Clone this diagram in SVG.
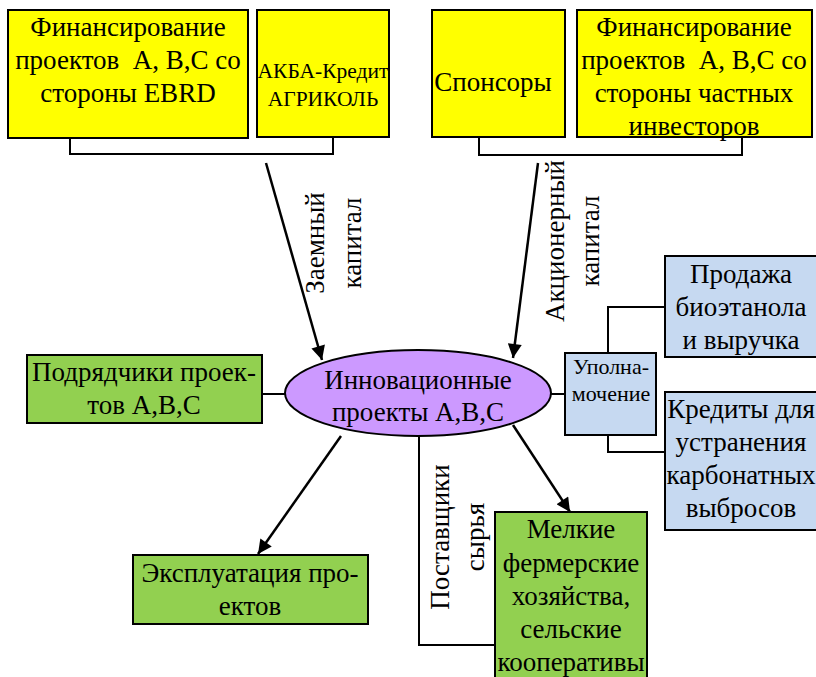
<svg xmlns="http://www.w3.org/2000/svg" width="816" height="677" viewBox="0 0 816 677">
<style>
text{font-family:'Liberation Serif','Times New Roman',serif;fill:#000}
.t{font-size:27px;text-anchor:middle}
.s{font-size:21.5px;text-anchor:middle}
.u{font-size:22px;text-anchor:middle}
.y{fill:#FFFF00;stroke:#000;stroke-width:2}
.g{fill:#92D050;stroke:#000;stroke-width:2}
.b{fill:#C6D9F1;stroke:#000;stroke-width:2}
.ln{fill:none;stroke:#000;stroke-width:2}
.ar{fill:none;stroke:#000;stroke-width:2.5}
</style>
<defs>
<marker id="ah" viewBox="0 0 10 10" refX="10" refY="5" markerWidth="15" markerHeight="14" markerUnits="userSpaceOnUse" orient="auto">
<path d="M0,0 L10,5 L0,10 z" fill="#000"/>
</marker>
</defs>
<rect width="816" height="677" fill="#fff"/>
<g id="connectors">
<polyline class="ln" points="70,138 70,154 333,154 333,137"/>
<polyline class="ln" points="479,137 479,155 742,155 742,137"/>
<line class="ar" x1="266" y1="163" x2="322" y2="360" marker-end="url(#ah)"/>
<line class="ar" x1="538" y1="163" x2="513" y2="358" marker-end="url(#ah)"/>
<line class="ln" x1="262" y1="394" x2="286" y2="394"/>
<line class="ln" x1="550" y1="394" x2="565" y2="394"/>
<polyline class="ln" points="608,353 608,307 665,307"/>
<polyline class="ln" points="608,435 608,452 665,452"/>
<line class="ar" x1="341" y1="436" x2="258" y2="554" marker-end="url(#ah)"/>
<line class="ar" x1="513" y1="425" x2="570" y2="512" marker-end="url(#ah)"/>
<polyline class="ln" points="419,437 419,645 494,645"/>
<text class="t" transform="translate(324,243) rotate(-90)">Заемный</text>
<text class="t" transform="translate(361,243) rotate(-90)">капитал</text>
<text class="t" transform="translate(564,241) rotate(-90)">Акционерный</text>
<text class="t" transform="translate(599,241) rotate(-90)">капитал</text>
<text class="t" transform="translate(449,537) rotate(-90)">Поставщики</text>
<text class="t" transform="translate(484,537) rotate(-90)">сырья</text>
</g>
<g id="ebrd">
<rect class="y" x="8" y="10" width="240" height="128"/>
<text class="t" x="128" y="36">Финансирование</text>
<text class="t" x="128" y="69" xml:space="preserve">проектов  А, В,С со</text>
<text class="t" x="128" y="102">стороны EBRD</text>
</g>
<g id="akba">
<rect class="y" x="257" y="10" width="132" height="127"/>
<text class="s" x="323" y="78">АКБА-Кредит</text>
<text class="s" x="323" y="106">АГРИКОЛЬ</text>
</g>
<g id="sponsors">
<rect class="y" x="432" y="10" width="133" height="127"/>
<text class="t" x="493" y="91">Спонсоры</text>
</g>
<g id="private">
<rect class="y" x="577" y="10" width="235" height="127"/>
<text class="t" x="694" y="36">Финансирование</text>
<text class="t" x="694" y="69" xml:space="preserve">проектов  А, В,С со</text>
<text class="t" x="694" y="102">стороны частных</text>
<text class="t" x="694" y="135">инвесторов</text>
</g>
<g id="projects">
<ellipse cx="418" cy="393" rx="133" ry="43" fill="#CC99FF" stroke="#000" stroke-width="2"/>
<text class="t" x="418" y="389">Инновационные</text>
<text class="t" x="418" y="421">проекты А,В,С</text>
</g>
<g id="contractors">
<rect class="g" x="27" y="355" width="235" height="68"/>
<text class="t" x="144" y="381">Подрядчики проек-</text>
<text class="t" x="144" y="414">тов А,В,С</text>
</g>
<g id="operation">
<rect class="g" x="133" y="555" width="235" height="69"/>
<text class="t" x="250" y="582">Эксплуатация про-</text>
<text class="t" x="250" y="615">ектов</text>
</g>
<g id="farmers">
<rect class="g" x="495" y="512" width="152" height="170"/>
<text class="t" x="571" y="538">Мелкие</text>
<text class="t" x="571" y="572">фермерские</text>
<text class="t" x="571" y="605">хозяйства,</text>
<text class="t" x="571" y="638">сельские</text>
<text class="t" x="571" y="671">кооперативы</text>
</g>
<g id="proxy">
<rect class="b" x="565" y="353" width="91" height="82"/>
<text class="u" x="611" y="374">Уполна-</text>
<text class="u" x="611" y="401">мочение</text>
</g>
<g id="bioethanol">
<rect class="b" x="665" y="256" width="155" height="101"/>
<text class="t" x="741" y="283">Продажа</text>
<text class="t" x="741" y="316">биоэтанола</text>
<text class="t" x="741" y="349">и выручка</text>
</g>
<g id="credits">
<rect class="b" x="665" y="392" width="155" height="138"/>
<text class="t" x="741" y="418">Кредиты для</text>
<text class="t" x="741" y="451">устранения</text>
<text class="t" x="741" y="484">карбонатных</text>
<text class="t" x="741" y="517">выбросов</text>
</g>
</svg>
